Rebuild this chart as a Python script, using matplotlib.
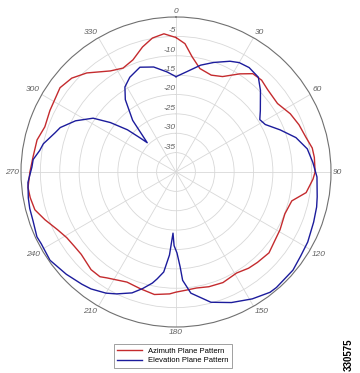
import numpy as np
import matplotlib
matplotlib.use('Agg')
import matplotlib.pyplot as plt

# Azimuth plane pattern (degrees, dB)
az_deg = [0, 4, 8, 13, 20, 26, 33, 38, 43, 48, 56, 63, 69, 75, 80, 84, 90,
          93, 99, 104, 111, 119, 131, 138, 143, 149, 157, 164, 170, 175, 180,
          183, 190, 197, 204, 210, 213, 216, 221, 229, 234, 239, 244, 250,
          255, 260, 264, 270, 276, 283, 289, 296, 306, 312, 318, 327, 333,
          339, 345, 350, 355, 360]
az_db = [-5.3, -6.8, -10.0, -12.6, -13.4, -12.6, -9.8, -7.8, -7.6, -8.2,
         -8.4, -6.9, -6.0, -5.3, -4.3, -4.1, -4.1, -4.6, -6.0, -9.2, -9.9,
         -9.3, -8.2, -8.6, -8.9, -9.6, -9.0, -9.2, -9.6, -9.4, -9.0, -8.5,
         -7.9, -8.5, -8.9, -8.0, -7.4, -6.6, -6.6, -7.6, -7.5, -7.1, -6.0,
         -4.0, -2.3, -1.8, -1.6, -2.3, -2.9, -3.2, -4.2, -3.8, -3.0, -3.8,
         -5.6, -8.9, -9.9, -9.0, -6.6, -4.9, -4.2, -5.3]

# Elevation plane pattern (degrees, dB)
el_deg = [0, 6, 13, 19, 26, 30, 35, 41, 46, 54, 58, 62, 68, 74, 80, 86, 92,
          100, 104, 110, 118, 124, 130, 139, 142, 149, 157, 165, 173, 176.5,
          177.5, 179.3, 181.5, 182.8, 184.5, 187, 190, 192, 196, 200, 206,
          210, 216, 220, 227, 235, 242, 245, 251, 256, 260, 266, 272, 275,
          279, 282, 288, 291, 297, 303, 307, 311, 313.5, 315.5, 320, 325,
          329, 334, 341, 348, 355, 360]
el_db = [-15.4, -14.0, -11.7, -10.1, -8.2, -7.4, -7.1, -7.6, -9.7, -13.1,
         -14.5, -13.9, -11.0, -7.8, -5.6, -4.6, -3.6, -3.0, -2.6, -2.2, -1.5,
         -1.2, -0.6, -0.5, -0.6, -1.8, -3.4, -5.2, -8.5, -12.0, -15.5, -19.1,
         -21.0, -24.2, -18.5, -14.0, -12.0, -10.7, -8.7, -6.8, -5.0, -3.9,
         -2.7, -2.2, -1.3, -0.3, -0.6, -0.4, -1.0, -1.1, -1.3, -1.7, -2.8,
         -3.0, -4.4, -5.0, -7.2, -8.0, -10.9, -14.5, -18.8, -23.4, -27.2,
         -29.4, -22.6, -17.2, -14.4, -12.8, -11.4, -12.3, -14.1, -15.4]

r_ticks = [-35, -30, -25, -20, -15, -10, -5]
theta_ticks = list(range(0, 360, 30))

plt.rcParams['font.family'] = ['Liberation Sans', 'DejaVu Sans']

fig = plt.figure(figsize=(3.6, 3.73), dpi=100)
ax = fig.add_axes([21 / 360, 46 / 373, 310 / 360, 310 / 373], projection='polar')
ax.set_theta_zero_location('N')
ax.set_theta_direction(-1)
ax.set_rlim(-40, 0)

ax.plot(np.radians(az_deg), az_db, color='#c42b2e', lw=1.0, label='Azimuth Plane Pattern')
ax.plot(np.radians(el_deg), el_db, color='#1c1c9c', lw=1.0, label='Elevation Plane Pattern')

ax.set_rticks(r_ticks)
ax.set_yticklabels([])
ax.set_thetagrids(theta_ticks, labels=[])
ax.grid(True, color='#d8d8d8', lw=0.6)
ax.spines['polar'].set_color('#707070')
ax.spines['polar'].set_linewidth(0.8)

# radial labels, just above each ring on the 0 degree spoke
for r in r_ticks:
    ax.annotate(str(r), (0, r), xytext=(0, 1.5), textcoords='offset points',
                ha='right', va='bottom', fontsize=6, style='italic', color='#606060')

# angle labels around the rim
for t in theta_ticks:
    a = np.radians(t)
    x = 0.5 + 0.507 * np.sin(a)
    y = 0.5 + 0.507 * np.cos(a)
    if t in (0, 180):
        ha = 'center'
    elif t < 180:
        ha = 'left'
    else:
        ha = 'right'
    if t in (90, 270):
        va = 'center'
    elif t < 90 or t > 270:
        va = 'bottom'
    else:
        va = 'top'
    ax.text(x, y, str(t), transform=ax.transAxes, ha=ha, va=va,
            fontsize=6, style='italic', color='#606060')

leg = fig.legend(loc='center', bbox_to_anchor=(173 / 360, 1 - 356 / 373), fontsize=5.5,
                 fancybox=False, edgecolor='#909090', framealpha=1, handlelength=3.2,
                 borderpad=0.5, labelspacing=0.3)
leg.get_frame().set_linewidth(0.6)

fig.text(349 / 360, 1 - 355 / 373, '330575', rotation=90, ha='center', va='center',
         fontsize=7, fontweight='bold', color='black')

fig.savefig('out.png', dpi=100)
